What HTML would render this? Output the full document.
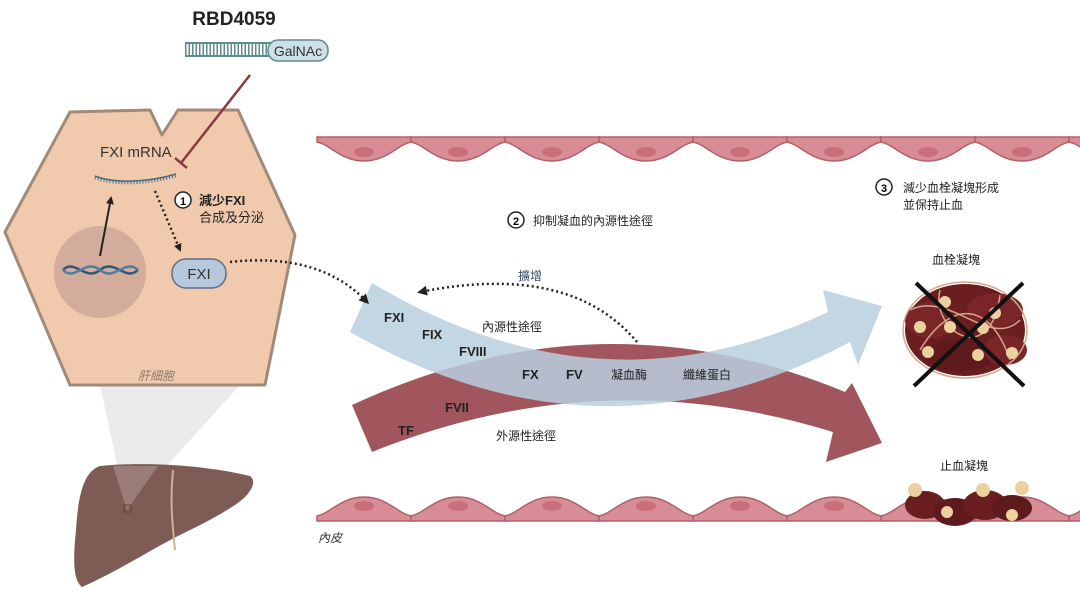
<!DOCTYPE html>
<html><head><meta charset="utf-8"><style>
html,body{margin:0;padding:0;background:#fff;width:1080px;height:595px;overflow:hidden}
svg{display:block}
text{font-family:"Liberation Sans","Noto Sans CJK TC",sans-serif}
</style></head><body>
<svg width="1080" height="595" viewBox="0 0 1080 595" xmlns="http://www.w3.org/2000/svg">
<defs>
<g id="cellT"><path d="M0,137 L94,137 L94,142 C80,145 70,161 47,161 C24,161 14,145 0,142 Z" fill="#d88c96" stroke="#b0606b" stroke-width="1.5"/><ellipse cx="47" cy="152" rx="10" ry="5" fill="#c96f7c"/></g>
<g id="cellB"><path d="M0,521 L94,521 L94,516 C80,513 70,497 47,497 C24,497 14,513 0,516 Z" fill="#d88c96" stroke="#b0606b" stroke-width="1.5"/><ellipse cx="47" cy="506" rx="10" ry="5" fill="#c96f7c"/></g>
<marker id="ah" markerWidth="8" markerHeight="8" refX="6" refY="4" orient="auto" markerUnits="userSpaceOnUse"><path d="M0,0 L8,4 L0,8 Z" fill="#222"/></marker>
<marker id="ah2" markerWidth="10" markerHeight="10" refX="7" refY="5" orient="auto" markerUnits="userSpaceOnUse"><path d="M0,0 L10,5 L0,10 Z" fill="#222"/></marker>
</defs>

<!-- cone -->
<polygon points="100,385 240,385 127,510" fill="#e6e6e3" opacity="0.8"/>
<!-- liver -->
<path d="M100,466 C140,462 200,464 250,476 C258,482 250,495 235,505 C215,518 200,525 180,535 C150,550 120,570 82,587 C73,580 73,560 76,530 C78,500 82,472 100,466 Z" fill="#7e5c55"/>
<path d="M173,470 C170,500 172,520 175,550" stroke="#c9b39a" stroke-width="2" fill="none"/>
<polygon points="113,466 158,466 127,510" fill="#a58a86" opacity="0.7"/>
<rect x="124" y="505" width="7" height="7" fill="none" stroke="#5d443f" stroke-width="1"/>

<!-- hepatocyte -->
<path d="M70,112 L150,110 L162,135 L178,110 L238,110 L295,235 L265,385 L70,385 L5,232 Z" fill="#f1c9ad" stroke="#a08b7a" stroke-width="3" stroke-linejoin="round"/>
<circle cx="100" cy="272" r="46" fill="#c9a195" opacity="0.75"/>
<path d="M63,270 C75,258 85,282 100,270 C115,258 125,282 138,270" stroke="#2c5878" stroke-width="2.5" fill="none"/>
<path d="M63,270 C75,282 85,258 100,270 C115,282 125,258 138,270" stroke="#4f7fa0" stroke-width="2.5" fill="none"/>
<line x1="100" y1="256" x2="111" y2="198" stroke="#222" stroke-width="2" marker-end="url(#ah)"/>
<path d="M95,178 C115,186 150,184 176,176" stroke="#3f6e80" stroke-width="2.5" fill="none" stroke-dasharray="1 2"/>
<path d="M95,176 C115,184 150,182 176,174" stroke="#3f6e80" stroke-width="1.5" fill="none"/>
<text x="100" y="157" font-size="15" fill="#333">FXI mRNA</text>
<line x1="155" y1="191" x2="180" y2="250" stroke="#222" stroke-width="2.5" stroke-dasharray="2 3" marker-end="url(#ah)"/>
<circle cx="183" cy="200" r="8" fill="#fff" stroke="#222" stroke-width="1.5"/>
<text x="183" y="205" font-size="11" font-weight="bold" text-anchor="middle">1</text>
<text x="199" y="205" font-size="13" font-weight="bold" fill="#222">減少FXI</text>
<text x="199" y="222" font-size="13" fill="#222">合成及分泌</text>
<rect x="172" y="259" width="54" height="29" rx="14" fill="#b6c9dc" stroke="#5a6e84" stroke-width="1.5"/>
<text x="199" y="279" font-size="15" text-anchor="middle" fill="#333">FXI</text>
<text x="138" y="380" font-size="12" font-style="italic" fill="#8a7a70">肝細胞</text>

<!-- RBD4059 -->
<text x="234" y="25" font-size="19" font-weight="bold" text-anchor="middle" fill="#222">RBD4059</text>
<line x1="185" y1="43" x2="271" y2="43" stroke="#5f8d8f" stroke-width="2"/>
<line x1="185" y1="56" x2="271" y2="56" stroke="#5f8d8f" stroke-width="2"/>
<line x1="185" y1="49.5" x2="271" y2="49.5" stroke="#5f8d8f" stroke-width="12" stroke-dasharray="1.5 2"/>
<rect x="268" y="40" width="60" height="21" rx="10" fill="#cde0e6" stroke="#5f8d8f" stroke-width="1.5"/>
<text x="298" y="56" font-size="14" text-anchor="middle" fill="#333">GalNAc</text>
<line x1="250" y1="75" x2="181" y2="163" stroke="#8b3a3f" stroke-width="2.5"/>
<line x1="175" y1="158" x2="187" y2="168" stroke="#8b3a3f" stroke-width="2.5"/>

<!-- endothelium -->
<g>
<use href="#cellT" x="317"/><use href="#cellT" x="411"/><use href="#cellT" x="505"/><use href="#cellT" x="599"/><use href="#cellT" x="693"/><use href="#cellT" x="787"/><use href="#cellT" x="881"/><use href="#cellT" x="975"/><use href="#cellT" x="1069"/>
<use href="#cellB" x="317"/><use href="#cellB" x="411"/><use href="#cellB" x="505"/><use href="#cellB" x="599"/><use href="#cellB" x="693"/><use href="#cellB" x="787"/><use href="#cellB" x="881"/><use href="#cellB" x="975"/><use href="#cellB" x="1069"/>
</g>
<text x="318" y="542" font-size="12" font-style="italic" fill="#333">內皮</text>

<!-- arrows -->
<path d="M352,405 Q600,290 845,392 L852,383 L882,443 L826,462 L833,432 Q600,360 372,452 Z" fill="#a1565d"/>
<path d="M372,283 Q600,420 828,312 L823,290 L882,306 L858,365 L850,342 Q600,475 350,332 Z" fill="#b8cfdf" opacity="0.85"/>

<text x="384" y="322" font-size="13" font-weight="bold" fill="#222">FXI</text>
<text x="422" y="339" font-size="13" font-weight="bold" fill="#222">FIX</text>
<text x="459" y="356" font-size="13" font-weight="bold" fill="#222">FVIII</text>
<text x="482" y="331" font-size="12" fill="#222">內源性途徑</text>
<text x="522" y="379" font-size="13" font-weight="bold" fill="#222">FX</text>
<text x="566" y="379" font-size="13" font-weight="bold" fill="#222">FV</text>
<text x="611" y="379" font-size="12" fill="#222">凝血酶</text>
<text x="683" y="379" font-size="12" fill="#222">纖維蛋白</text>
<text x="445" y="412" font-size="13" font-weight="bold" fill="#222">FVII</text>
<text x="398" y="435" font-size="13" font-weight="bold" fill="#222">TF</text>
<text x="496" y="440" font-size="12" fill="#222">外源性途徑</text>

<path d="M637,342 Q570,262 420,292" stroke="#222" stroke-width="2.5" stroke-dasharray="2 3" fill="none" marker-end="url(#ah2)"/>
<text x="518" y="280" font-size="12" fill="#3b4a6b">擴增</text>
<path d="M230,262 Q320,252 367,302" stroke="#222" stroke-width="2.5" stroke-dasharray="2 3" fill="none" marker-end="url(#ah2)"/>

<circle cx="516" cy="220" r="8" fill="#fff" stroke="#222" stroke-width="1.5"/>
<text x="516" y="225" font-size="11" font-weight="bold" text-anchor="middle">2</text>
<text x="533" y="225" font-size="12" fill="#222">抑制凝血的內源性途徑</text>

<circle cx="884" cy="187" r="8" fill="#fff" stroke="#222" stroke-width="1.5"/>
<text x="884" y="192" font-size="11" font-weight="bold" text-anchor="middle">3</text>
<text x="903" y="192" font-size="12" fill="#222">減少血栓凝塊形成</text>
<text x="903" y="209" font-size="12" fill="#222">並保持止血</text>

<!-- thrombus -->
<text x="932" y="264" font-size="12" fill="#222">血栓凝塊</text>
<g>
<ellipse cx="965" cy="330" rx="60" ry="46" fill="#6a1e20"/>
<ellipse cx="930" cy="320" rx="25" ry="18" fill="#7a2528"/>
<ellipse cx="995" cy="310" rx="28" ry="17" fill="#7a2528"/>
<ellipse cx="960" cy="355" rx="35" ry="16" fill="#5e1a1c"/>
<ellipse cx="1005" cy="350" rx="22" ry="15" fill="#7a2528"/>
<ellipse cx="965" cy="330" rx="62" ry="48" fill="none" stroke="#d6a68a" stroke-width="1.5"/>
<path d="M910,310 C950,290 990,350 1020,320 M920,350 C950,300 990,300 1010,360 M940,290 C930,330 990,370 1000,295" stroke="#d6a68a" stroke-width="1.5" fill="none"/>
<circle cx="945" cy="302" r="6" fill="#ecd1a0"/><circle cx="920" cy="327" r="6" fill="#ecd1a0"/><circle cx="950" cy="327" r="6" fill="#ecd1a0"/><circle cx="983" cy="328" r="6" fill="#ecd1a0"/><circle cx="978" cy="355" r="6" fill="#ecd1a0"/><circle cx="928" cy="352" r="6" fill="#ecd1a0"/><circle cx="1012" cy="353" r="6" fill="#ecd1a0"/><circle cx="995" cy="313" r="6" fill="#ecd1a0"/>
<line x1="916" y1="283" x2="1024" y2="386" stroke="#111" stroke-width="4"/>
<line x1="1023" y1="283" x2="914" y2="386" stroke="#111" stroke-width="4"/>
</g>

<!-- hemostatic clot -->
<text x="940" y="470" font-size="12" fill="#222">止血凝塊</text>
<g>
<ellipse cx="925" cy="505" rx="20" ry="14" fill="#6a1e20"/>
<ellipse cx="955" cy="512" rx="22" ry="14" fill="#5e1a1c"/>
<ellipse cx="985" cy="505" rx="22" ry="15" fill="#6a1e20"/>
<ellipse cx="1012" cy="508" rx="20" ry="13" fill="#5e1a1c"/>
<circle cx="915" cy="490" r="7" fill="#ecd1a0"/><circle cx="947" cy="512" r="6" fill="#ecd1a0"/><circle cx="983" cy="490" r="7" fill="#ecd1a0"/><circle cx="1022" cy="488" r="7" fill="#ecd1a0"/><circle cx="1012" cy="515" r="6" fill="#ecd1a0"/>
</g>
</svg>
</body></html>
